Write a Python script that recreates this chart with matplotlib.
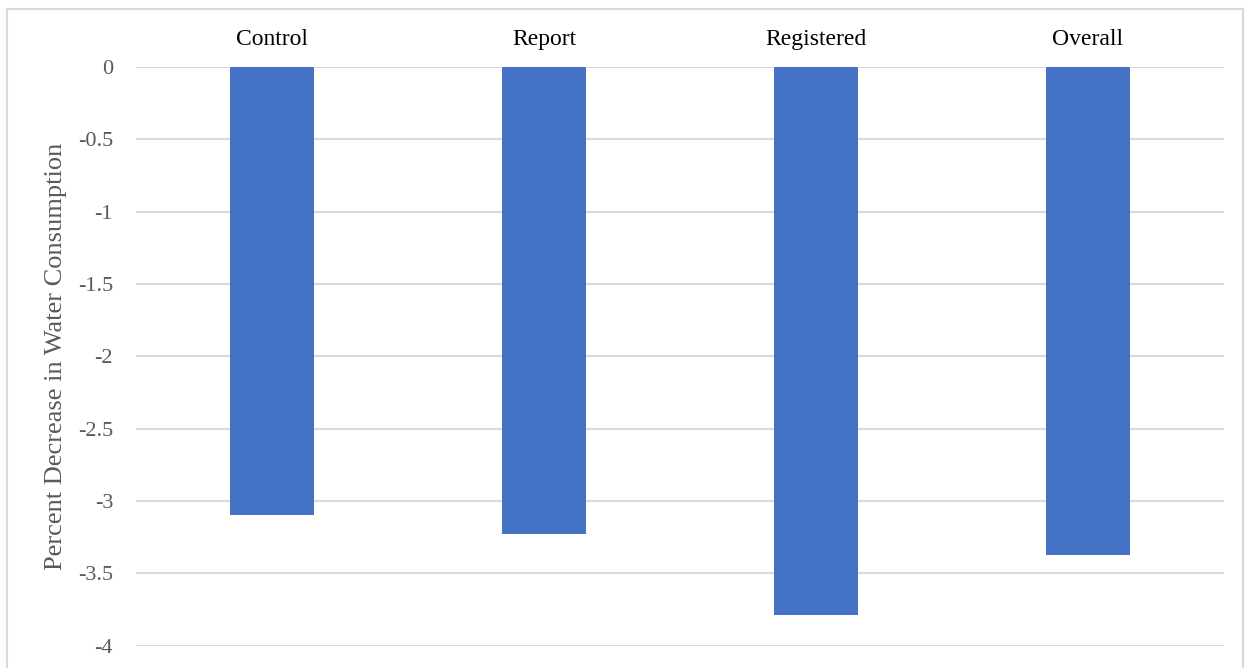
import matplotlib
matplotlib.use("Agg")
import matplotlib.pyplot as plt
from matplotlib.patches import Rectangle

categories = ["Control", "Report", "Registered", "Overall"]
values = [-3.10, -3.23, -3.79, -3.37]
yticks = [0, -0.5, -1, -1.5, -2, -2.5, -3, -3.5, -4]
ytick_labels = ["0", "-0.5", "-1", "-1.5", "-2", "-2.5", "-3", "-3.5", "-4"]

plt.rcParams['font.family'] = ['Liberation Serif', 'DejaVu Serif']

W, H = 1253, 668
fig = plt.figure(figsize=(W / 100, H / 100), dpi=100)
fig.patch.set_facecolor("white")

left, right, top, bottom = 136, 1224, 67, 645.7
ax = fig.add_axes([left / W, 1 - bottom / H, (right - left) / W, (bottom - top) / H])

x = list(range(len(categories)))
ax.bar(x, values, width=0.31, color="#4472C4", zorder=3)
ax.set_xlim(-0.5, len(categories) - 0.5)
ax.set_ylim(-4, 0)

ax.set_yticks(yticks)
ax.set_yticklabels(ytick_labels, fontsize=16, color="#595959")
ax.tick_params(axis="y", length=0, pad=16.5)

ax.xaxis.tick_top()
ax.set_xticks(x)
ax.set_xticklabels(categories, fontsize=17, color="black")
ax.tick_params(axis="x", length=0, pad=12.5)

ax.grid(axis="y", color="#d9d9d9", linewidth=1.5, zorder=0)
ax.grid(axis="x", visible=False)
for s in ax.spines.values():
    s.set_visible(False)

ax.set_ylabel("Percent Decrease in Water Consumption", fontsize=19, color="#595959")
ax.yaxis.set_label_coords(-(left - 67) / (right - left), (bottom - 356) / (bottom - top))

fig.add_artist(Rectangle((7 / W, -0.05), (1243 - 7) / W, 1.05 - 8.5 / H,
                         transform=fig.transFigure, fill=False,
                         edgecolor="#d9d9d9", linewidth=1.5))

fig.savefig("out.png", dpi=100)
